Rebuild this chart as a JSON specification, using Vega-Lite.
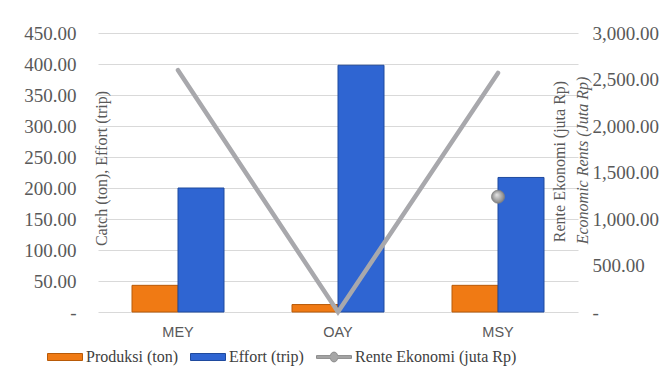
{
  "$schema": "https://vega.github.io/schema/vega-lite/v6.json",
  "autosize": {"type": "none"},
  "width": 480,
  "height": 279,
  "padding": {"left": 98, "top": 33, "right": 91, "bottom": 71},
  "background": "white",
  "config": {
    "view": {"stroke": null},
    "axis": {"labelColor": "#595959", "titleColor": "#595959", "titleFontWeight": "normal"}
  },
  "datasets": {
    "batang": [
      {"kategori": "MEY", "seri": "Produksi (ton)", "nilai": 43},
      {"kategori": "MEY", "seri": "Effort (trip)", "nilai": 200},
      {"kategori": "OAY", "seri": "Produksi (ton)", "nilai": 12},
      {"kategori": "OAY", "seri": "Effort (trip)", "nilai": 398},
      {"kategori": "MSY", "seri": "Produksi (ton)", "nilai": 43},
      {"kategori": "MSY", "seri": "Effort (trip)", "nilai": 217}
    ],
    "rente": [
      {"kategori": "MEY", "nilai": 2600},
      {"kategori": "OAY", "nilai": 0},
      {"kategori": "MSY", "nilai": 2570}
    ],
    "penanda": [
      {"kategori": "MSY", "nilai": 1240}
    ]
  },
  "layer": [
    {
      "data": {"name": "batang"},
      "mark": {"type": "bar", "strokeWidth": 1},
      "encoding": {
        "x": {
          "field": "kategori", "type": "nominal", "sort": ["MEY", "OAY", "MSY"],
          "scale": {"paddingInner": 0.425, "paddingOuter": 0.2125},
          "axis": {"title": null, "ticks": false, "domain": false, "labelAngle": 0,
                   "labelFont": "Liberation Sans", "labelFontSize": 14.5, "labelPadding": 13}
        },
        "xOffset": {"field": "seri", "type": "nominal", "sort": ["Produksi (ton)", "Effort (trip)"]},
        "y": {
          "field": "nilai", "type": "quantitative",
          "scale": {"domain": [0, 450]},
          "axis": {
            "values": [0, 50, 100, 150, 200, 250, 300, 350, 400, 450],
            "grid": true, "gridColor": "#D9D9D9", "domain": false, "ticks": false,
            "labelFont": "Liberation Serif", "labelFontSize": 19, "labelPadding": 22,
            "labelExpr": "datum.value == 0 ? '-\u00a0\u00a0' : format(datum.value, ',.2f')",
            "title": "Catch (ton), Effort (trip)", "titleFont": "Liberation Serif", "titleFontSize": 16,
            "titleAngle": 270, "titleX": 3, "titleY": 135, "titleBaseline": "middle", "titleAlign": "center"
          }
        },
        "color": {
          "field": "seri", "type": "nominal",
          "scale": {"domain": ["Produksi (ton)", "Effort (trip)", "Rente Ekonomi (juta Rp)"],
                    "range": ["#F07A14", "#2F65D2", "#A6A6A6"]},
          "legend": {
            "orient": "none", "legendX": -51, "legendY": 306, "direction": "horizontal",
            "title": null, "symbolSize": 1225, "labelFont": "Liberation Serif", "labelFontSize": 16,
            "labelColor": "#404040", "labelOffset": 3, "columnPadding": 10, "symbolStrokeWidth": 1,
            "labelLimit": 400,
            "encode": {
              "symbols": {
                "update": {
                  "shape": {"signal": "datum.value === 'Rente Ekonomi (juta Rp)' ? 'M-1,-0.08H-0.2A0.2,0.2 0 1,1 0.2,-0.08H1V0.08H0.2A0.2,0.2 0 1,1 -0.2,0.08H-1Z' : 'M-1,-0.2H1V0.2H-1Z'"},
                  "stroke": {"signal": "datum.value === 'Produksi (ton)' ? '#B85A08' : datum.value === 'Effort (trip)' ? '#1F4A9E' : '#8C8C8C'"}
                }
              }
            }
          }
        },
        "stroke": {
          "field": "seri", "type": "nominal",
          "scale": {"domain": ["Produksi (ton)", "Effort (trip)"], "range": ["#B85A08", "#1F4A9E"]},
          "legend": null
        }
      }
    },
    {
      "data": {"name": "rente"},
      "mark": {"type": "line", "color": "#A8A8AC", "strokeWidth": 4.5, "strokeCap": "round"},
      "encoding": {
        "x": {"field": "kategori", "type": "nominal", "sort": ["MEY", "OAY", "MSY"]},
        "y": {
          "field": "nilai", "type": "quantitative",
          "scale": {"domain": [0, 3000]},
          "axis": {
            "orient": "right",
            "values": [0, 500, 1000, 1500, 2000, 2500, 3000],
            "grid": false, "domain": false, "ticks": false,
            "labelFont": "Liberation Serif", "labelFontSize": 19, "labelPadding": 14, "labelAlign": "left",
            "labelExpr": "datum.value == 0 ? '\u00a0\u00a0-' : format(datum.value, ',.2f')",
            "title": "Rente Ekonomi (juta Rp)", "titleFont": "Liberation Serif", "titleFontSize": 16,
            "titleAngle": 270, "titleX": -19, "titleY": 128, "titleBaseline": "middle", "titleAlign": "center"
          }
        }
      }
    },
    {
      "data": {"name": "penanda"},
      "mark": {"type": "point", "filled": true, "size": 170, "stroke": "#808080", "strokeWidth": 0.8, "opacity": 1,
               "fill": {"gradient": "radial", "x1": 0.4, "y1": 0.35, "r1": 0, "x2": 0.5, "y2": 0.5, "r2": 0.55,
                        "stops": [{"offset": 0, "color": "#E6E6E6"}, {"offset": 0.6, "color": "#A6A6A6"}, {"offset": 1, "color": "#7A7A7A"}]}},
      "encoding": {
        "x": {"field": "kategori", "type": "nominal", "sort": ["MEY", "OAY", "MSY"]},
        "y": {
          "field": "nilai", "type": "quantitative",
          "scale": {"domain": [0, 3000]},
          "axis": {
            "orient": "right", "labels": false, "grid": false, "domain": false, "ticks": false,
            "title": "Economic Rents (Juta Rp)", "titleFont": "Liberation Serif", "titleFontSize": 16,
            "titleFontStyle": "italic",
            "titleAngle": 270, "titleX": 4, "titleY": 127, "titleBaseline": "middle", "titleAlign": "center"
          }
        }
      }
    }
  ],
  "resolve": {"scale": {"y": "independent", "color": "independent", "stroke": "independent"}, "axis": {"y": "independent"}}
}
